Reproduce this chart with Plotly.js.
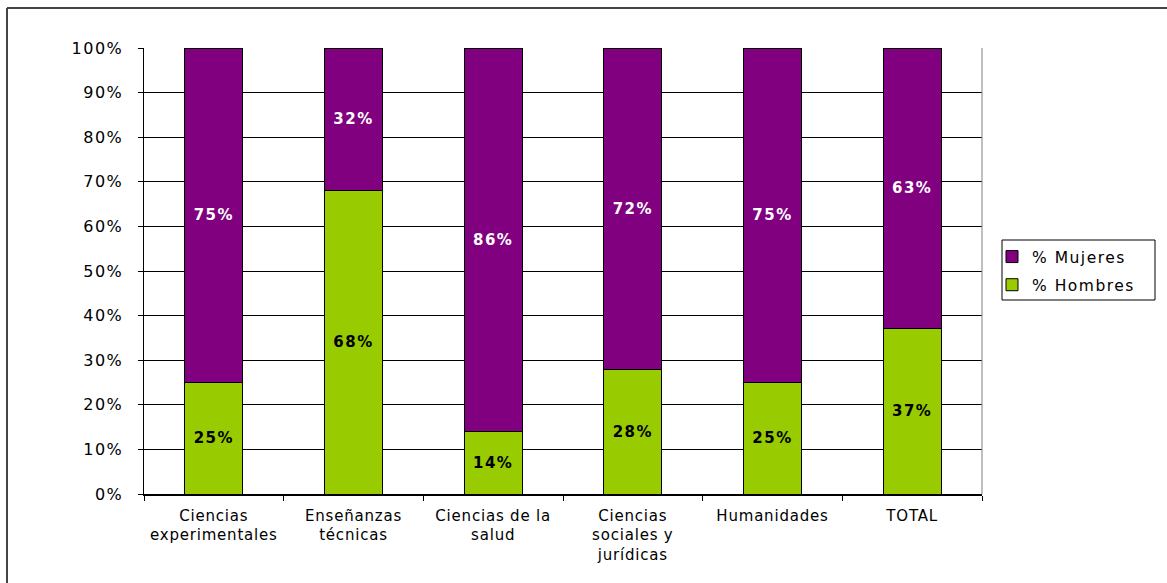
<!DOCTYPE html>
<html>
<head>
<meta charset="utf-8">
<script src="https://cdn.plot.ly/plotly-3.0.1.min.js"></script>
<style>
html,body{margin:0;padding:0;background:#fff;}
#chart{width:1167px;height:583px;}
#chart .ytick text{letter-spacing:1.5px;}
#chart .xtick text{letter-spacing:0.8px;}
#chart .legendtext{letter-spacing:1.5px;}
#chart .bartext text, #chart text.bartext{letter-spacing:1.5px;}
</style>
</head>
<body>
<div id="chart"></div>
<script>
const categories = ["Ciencias<br>experimentales", "Enseñanzas<br>técnicas", "Ciencias de la<br>salud", "Ciencias<br>sociales y<br>jurídicas", "Humanidades", "TOTAL"];
const hombres = [25, 68, 14, 28, 25, 37];
const mujeres = [75, 32, 86, 72, 75, 63];
const yTicks = [0, 10, 20, 30, 40, 50, 60, 70, 80, 90, 100];
const yTickText = ["0%", "10%", "20%", "30%", "40%", "50%", "60%", "70%", "80%", "90%", "100%"];

const W = 1167, H = 583;
const L = 144, R = 982, T = 48, B = 494;
const px = v => (v - L) / (R - L);
const py = v => (B - v) / (B - T);
const FONT = 'DejaVu Sans, Verdana, sans-serif';
const PAD = '\u00a0\u00a0\u00a0';

const common = {
  type: 'bar',
  x: categories,
  textposition: 'inside',
  insidetextanchor: 'middle',
  textangle: 0,
  constraintext: 'none',
  texttemplate: '<b>%{text}</b>',
  hoverinfo: 'skip'
};

const data = [
  Object.assign({}, common, {
    name: '% Hombres' + PAD, legendgroup: 'h', legendrank: 2, y: hombres, text: hombres.map(v => v + '%'),
    marker: {color: '#99CC00', line: {color: '#000000', width: 1}},
    textfont: {family: FONT, size: 15, color: '#000000'}
  }),
  Object.assign({}, common, {
    name: '% Mujeres' + PAD, legendgroup: 'm', legendrank: 1, y: mujeres, text: mujeres.map(v => v + '%'),
    marker: {color: '#800080', line: {color: '#000000', width: 1}},
    textfont: {family: FONT, size: 15, color: '#ffffff'}
  })
];

const layout = {
  width: W, height: H,
  margin: {l: L, r: W - R, t: T, b: H - B, pad: 0},
  paper_bgcolor: '#ffffff', plot_bgcolor: '#ffffff',
  barmode: 'stack',
  bargap: 0.585,
  font: {family: FONT, size: 15, color: '#000000'},
  xaxis: {
    type: 'category',
    tickson: 'boundaries',
    ticks: 'outside', ticklen: 5, tickcolor: '#000', tickwidth: 1,
    ticklabelstandoff: 7,
    showgrid: false,
    showline: true, linecolor: '#000', linewidth: 1.5,
    tickfont: {family: FONT, size: 15},
    fixedrange: true
  },
  yaxis: {
    range: [0, 100],
    tickvals: yTicks,
    ticktext: yTickText,
    ticks: 'outside', ticklen: 5, tickcolor: '#000',
    ticklabelstandoff: 11,
    showgrid: true, gridcolor: '#000', gridwidth: 1,
    showline: true, linecolor: '#000', linewidth: 1.5,
    zeroline: false,
    tickfont: {family: FONT, size: 16},
    fixedrange: true
  },
  legend: {
    x: px(992), y: py(240), xanchor: 'left', yanchor: 'top',
    borderwidth: 0,
    font: {family: FONT, size: 15.5},
    bgcolor: 'rgba(0,0,0,0)',
    itemwidth: 30,
    tracegroupgap: 5,
    traceorder: 'grouped'
  },
  shapes: [
    {type: 'line', xref: 'paper', yref: 'paper', x0: 1, x1: 1, y0: 0, y1: 1, line: {color: '#808080', width: 1}},
    {type: 'rect', xref: 'paper', yref: 'paper', x0: px(1002), x1: px(1155), y0: py(240), y1: py(300), line: {color: '#000', width: 1}},
    {type: 'line', xref: 'paper', yref: 'paper', x0: px(7), x1: px(1167), y0: py(8), y1: py(8), line: {color: '#444', width: 2}},
    {type: 'line', xref: 'paper', yref: 'paper', x0: px(7), x1: px(7), y0: py(8), y1: py(583), line: {color: '#444', width: 2}}
  ],
  showlegend: true
};

Plotly.newPlot('chart', data, layout, {displayModeBar: false, staticPlot: true});
</script>
</body>
</html>
